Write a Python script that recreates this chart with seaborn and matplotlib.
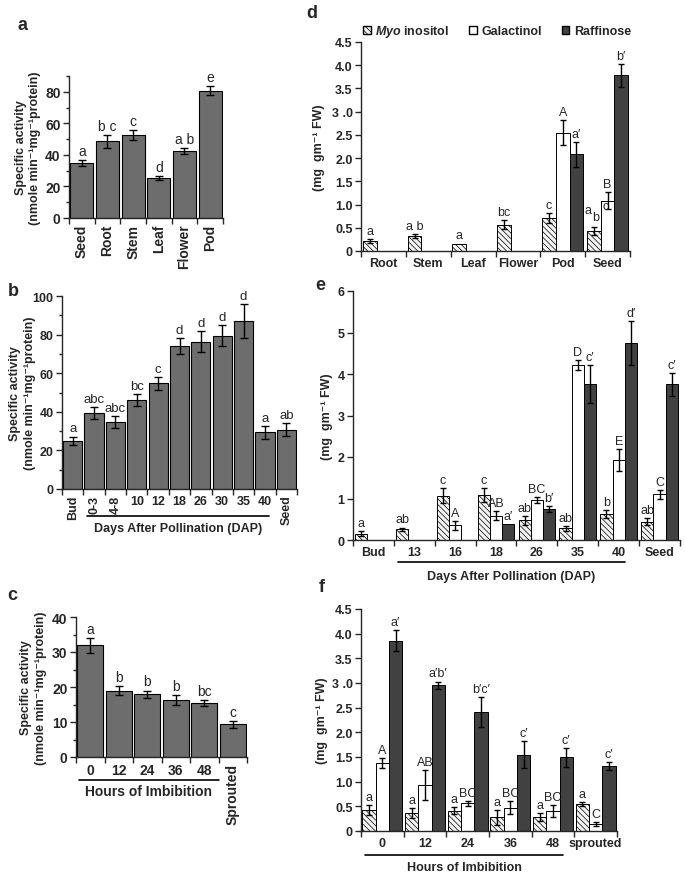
import matplotlib
matplotlib.use("Agg")
import matplotlib.pyplot as plt
from matplotlib.patches import Patch
from matplotlib.ticker import MultipleLocator
import seaborn as sns
import numpy as np
import pandas as pd

sns.set_theme(style="ticks")
plt.rcParams['font.family'] = ['Liberation Sans', 'DejaVu Sans']
plt.rcParams['mathtext.fontset'] = 'custom'
plt.rcParams['mathtext.it'] = 'Liberation Sans:italic:bold'
plt.rcParams['hatch.linewidth'] = 0.5
plt.rcParams['axes.linewidth'] = 1.0

BAR_GRAY = '#6d6d6d'
RAF_GRAY = '#414141'
GAL_WHITE = '#ffffff'
MYO_FILL = '#f4f4f4'
MYO_HATCH = '\\\\\\\\\\\\'
SUGARS = ['Myo inositol', 'Galactinol', 'Raffinose']

# ---- panel a: specific activity in tissues
a_cats = ['Seed', 'Root', 'Stem', 'Leaf', 'Flower', 'Pod']
a_vals = [34.7, 48.5, 52.5, 25.6, 42.3, 80.8]
a_errs = [1.9, 4.3, 3.0, 1.2, 2.0, 3.0]
a_letters = ['a', 'b c', 'c', 'd', 'a b', 'e']

# ---- panel b: specific activity during pod development
b_cats = ['Bud', '0-3', '4-8', '10', '12', '18', '26', '30', '35', '40', 'Seed']
b_vals = [25.0, 39.3, 34.7, 46.0, 54.7, 74.0, 76.4, 79.5, 87.0, 29.3, 30.7]
b_errs = [2.2, 3.2, 2.9, 3.1, 3.5, 4.3, 5.3, 5.3, 8.6, 3.2, 3.3]
b_letters = ['a', 'abc', 'abc', 'bc', 'c', 'd', 'd', 'd', 'd', 'a', 'ab']
b_rot = [90, 90, 90, 0, 0, 0, 0, 0, 0, 0, 90]

# ---- panel c: specific activity during imbibition
c_cats = ['0', '12', '24', '36', '48', 'Sprouted']
c_vals = [31.9, 18.9, 17.9, 16.4, 15.5, 9.3]
c_errs = [2.2, 1.3, 1.1, 1.4, 0.8, 1.0]
c_letters = ['a', 'b', 'b', 'b', 'bc', 'c']
c_rot = [0, 0, 0, 0, 0, 90]

# ---- panel d: sugars in tissues
d_cats = ['Root', 'Stem', 'Leaf', 'Flower', 'Pod', 'Seed']
d_myo = [0.21, 0.32, 0.16, 0.57, 0.71, 0.43]
d_myo_err = [0.04, 0.04, 0.0, 0.1, 0.1, 0.08]
d_gal = [0, 0, 0, 0, 2.55, 1.08]
d_gal_err = [0, 0, 0, 0, 0.27, 0.18]
d_raf = [0, 0, 0, 0, 2.08, 3.78]
d_raf_err = [0, 0, 0, 0, 0.27, 0.25]
d_myo_lab = ['a', 'a b', 'a', 'bc', 'c', '']
d_gal_lab = ['', '', '', '', 'A', 'B']
d_raf_lab = ['', '', '', '', 'a\u2032', 'b\u2032']

# ---- panel e: sugars during pod development
e_cats = ['Bud', '13', '16', '18', '26', '35', '40', 'Seed']
e_myo = [0.15, 0.26, 1.07, 1.09, 0.47, 0.28, 0.62, 0.44]
e_myo_err = [0.06, 0.04, 0.18, 0.17, 0.1, 0.06, 0.1, 0.08]
e_gal = [0, 0, 0.35, 0.59, 0.97, 4.22, 1.93, 1.1]
e_gal_err = [0, 0, 0.1, 0.1, 0.07, 0.12, 0.26, 0.1]
e_raf = [0, 0, 0, 0.38, 0.75, 3.75, 4.74, 3.75]
e_raf_err = [0, 0, 0, 0, 0.07, 0.46, 0.53, 0.27]
e_myo_lab = ['a', 'ab', 'c', 'c', 'ab', 'ab', 'b', 'ab']
e_gal_lab = ['', '', 'A', 'AB', 'BC', 'D', 'E', 'C']
e_raf_lab = ['', '', '', 'a\u2032', 'b\u2032', 'c\u2032', 'd\u2032', 'c\u2032']

# ---- panel f: sugars during imbibition
f_cats = ['0', '12', '24', '36', '48', 'sprouted']
f_myo = [0.43, 0.36, 0.41, 0.28, 0.28, 0.55]
f_myo_err = [0.1, 0.1, 0.07, 0.15, 0.08, 0.04]
f_gal = [1.37, 0.93, 0.56, 0.47, 0.41, 0.15]
f_gal_err = [0.1, 0.3, 0.05, 0.13, 0.12, 0.04]
f_raf = [3.86, 2.95, 2.41, 1.55, 1.49, 1.31]
f_raf_err = [0.22, 0.08, 0.3, 0.27, 0.2, 0.08]
f_myo_lab = ['a', 'a', 'a', 'a', 'a', 'a']
f_gal_lab = ['A', 'AB', 'BC', 'BC', 'BC', 'C']
f_raf_lab = ['a\u2032', 'a\u2032b\u2032', 'b\u2032c\u2032', 'c\u2032', 'c\u2032', 'c\u2032']

YLAB_ACT = 'Specific activity\n(nmole min\u207b\u00b9mg\u207b\u00b9protein)'
YLAB_SUG = '(mg  gm\u207b\u00b9 FW)'

fig = plt.figure(figsize=(6.85, 8.78), dpi=100)
W, H = 685.0, 878.0


def rect(x0, y_top, x1, y_bottom):
    return [x0 / W, 1 - y_bottom / H, (x1 - x0) / W, (y_bottom - y_top) / H]


def style_x(ax, cats, rot, size):
    n = len(cats)
    ax.set_xticks(np.arange(-0.5, n, 1.0))
    ax.set_xticklabels([])
    ax.set_xticks(np.arange(n), cats, minor=True)
    ax.tick_params(axis='x', which='major', length=4, width=1, direction='out')
    ax.tick_params(axis='x', which='minor', length=0, pad=4, labelsize=size)
    for lab, r in zip(ax.get_xticklabels(minor=True), rot):
        lab.set_rotation(r)
        lab.set_fontweight('bold')
    ax.set_xlim(-0.5, n - 0.5)
    ax.set_xlabel('')
    sns.despine(ax=ax)


def style_y(ax, ylim, major, minor, size, ticklabels=None):
    ax.set_ylim(*ylim)
    ax.yaxis.set_major_locator(MultipleLocator(major))
    if minor:
        ax.yaxis.set_minor_locator(MultipleLocator(minor))
        ax.tick_params(axis='y', which='minor', length=2.5, width=1)
    ax.tick_params(axis='y', which='major', length=4, width=1, labelsize=size, pad=2)
    if ticklabels is not None:
        ax.set_yticks(np.arange(len(ticklabels)) * major, ticklabels)
    for lab in ax.get_yticklabels():
        lab.set_fontweight('bold')


def single_panel(r, cats, vals, errs, letters, rot, ylim, major, minor, tsize, lsize):
    ax = fig.add_axes(r)
    df = pd.DataFrame({'cat': cats, 'val': vals})
    sns.barplot(data=df, x='cat', y='val', order=cats, color=BAR_GRAY, saturation=1,
                width=0.9, edgecolor='black', linewidth=0.8, errorbar=None, ax=ax)
    centers = [p.get_x() + p.get_width() / 2 for p in ax.patches]
    ax.errorbar(centers, vals, yerr=errs, fmt='none', ecolor='black',
                elinewidth=1, capsize=3, capthick=1)
    for x, v, e, t in zip(centers, vals, errs, letters):
        ax.annotate(t, (x, v + e), xytext=(0, 1.5), textcoords='offset points',
                    ha='center', va='bottom', fontsize=lsize)
    style_x(ax, cats, rot, tsize)
    style_y(ax, ylim, major, minor, tsize)
    ax.set_ylabel(YLAB_ACT, fontsize=9, fontweight='bold', linespacing=1.3)
    return ax


def grouped_panel(r, cats, series, errs, labels, ylim, major, tsize, lsize, width,
                  ticklabels=None):
    ax = fig.add_axes(r)
    n = len(cats)
    df = pd.DataFrame({'cat': cats * 3,
                       'sugar': [s for s in SUGARS for _ in cats],
                       'val': series[0] + series[1] + series[2]})
    sns.barplot(data=df, x='cat', y='val', hue='sugar', order=cats, hue_order=SUGARS,
                palette=[MYO_FILL, GAL_WHITE, RAF_GRAY], saturation=1, width=width,
                edgecolor='black', linewidth=0.7, errorbar=None, legend=False, ax=ax)
    for bar in ax.containers[0]:
        bar.set_hatch(MYO_HATCH)
    for cont, vals, ee, labs in zip(ax.containers, series, errs, labels):
        for bar, v, e, t in zip(cont, vals, ee, labs):
            x = bar.get_x() + bar.get_width() / 2
            if e > 0:
                ax.errorbar([x], [v], yerr=[e], fmt='none', ecolor='black',
                            elinewidth=1, capsize=2.5, capthick=1)
            if t:
                ax.annotate(t, (x, v + e), xytext=(0, 1.5), textcoords='offset points',
                            ha='center', va='bottom', fontsize=lsize)
    style_x(ax, cats, [0] * n, tsize)
    style_y(ax, ylim, major, None, tsize, ticklabels)
    ax.set_ylabel(YLAB_SUG, fontsize=9, fontweight='bold')
    return ax


def bracket(ax, x0, x1, y, text, ty, size):
    tr = ax.get_xaxis_transform()
    ax.plot([x0, x1], [y, y], color='black', lw=1.2, transform=tr, clip_on=False)
    ax.text((x0 + x1) / 2, ty, text, transform=tr, ha='center', va='center',
            fontsize=size, fontweight='bold')


# ---------------- left column
ax_a = single_panel(rect(69, 77, 223, 219), a_cats, a_vals, a_errs, a_letters,
                    [90] * 6, (0, 90), 20, 10, 10, 10)
ax_a.yaxis.set_label_coords(-0.18, 0.5)

ax_b = single_panel(rect(62, 297, 297, 490), b_cats, b_vals, b_errs, b_letters,
                    b_rot, (0, 100), 20, 10, 9, 9.5)
ax_b.yaxis.set_label_coords(-0.11, 0.5)
bracket(ax_b, 0.65, 9.2, -0.14, 'Days After Pollination (DAP)', -0.2, 9)

ax_c = single_panel(rect(76, 618, 247, 758), c_cats, c_vals, c_errs, c_letters,
                    c_rot, (0, 40), 10, 5, 10, 10)
ax_c.yaxis.set_label_coords(-0.17, 0.5)
bracket(ax_c, -0.4, 4.5, -0.165, 'Hours of Imbibition', -0.24, 10)

# ---------------- right column
sug_ticks = ['0', '0.5', '1.0', '1.5', '2.0', '2.5', '3 .0', '3.5', '4.0', '4.5']

ax_d = grouped_panel(rect(361, 43, 630, 252), d_cats, [d_myo, d_gal, d_raf],
                     [d_myo_err, d_gal_err, d_raf_err], [d_myo_lab, d_gal_lab, d_raf_lab],
                     (0, 4.5), 0.5, 9, 9, 0.92, sug_ticks)
ax_d.yaxis.set_label_coords(-0.134, 0.5)
# staggered "abc" over the seed myo-inositol bar
seed_bar = ax_d.containers[0][5]
sx = seed_bar.get_x() + seed_bar.get_width() / 2
sy = d_myo[5] + d_myo_err[5]
for t, dx, dy in [('a', -4.5, 8), ('b', 1.5, 3), ('c', 8.5, 11)]:
    ax_d.annotate(t, (sx, sy), xytext=(dx, dy), textcoords='offset points',
                  ha='center', va='bottom', fontsize=9)
handles = [Patch(facecolor=MYO_FILL, edgecolor='black', hatch=MYO_HATCH, label='$Myo$ inositol'),
           Patch(facecolor=GAL_WHITE, edgecolor='black', label='Galactinol'),
           Patch(facecolor=RAF_GRAY, edgecolor='black', label='Raffinose')]
ax_d.legend(handles=handles, loc='lower left', bbox_to_anchor=(0.0, 1.0), ncol=3,
            frameon=False, prop={'weight': 'bold', 'size': 9}, handlelength=0.6,
            handleheight=0.6, handletextpad=0.35, columnspacing=1.6, borderaxespad=0.2,
            borderpad=0)

ax_e = grouped_panel(rect(353, 292, 680, 541), e_cats, [e_myo, e_gal, e_raf],
                     [e_myo_err, e_gal_err, e_raf_err], [e_myo_lab, e_gal_lab, e_raf_lab],
                     (0, 6), 1, 9, 9, 0.9)
ax_e.yaxis.set_label_coords(-0.061, 0.5)
bracket(ax_e, 0.6, 6.15, -0.088, 'Days After Pollination (DAP)', -0.145, 9)

ax_f = grouped_panel(rect(361, 610, 617, 832), f_cats, [f_myo, f_gal, f_raf],
                     [f_myo_err, f_gal_err, f_raf_err], [f_myo_lab, f_gal_lab, f_raf_lab],
                     (0, 4.5), 0.5, 9, 9, 0.93, sug_ticks)
ax_f.yaxis.set_label_coords(-0.129, 0.5)
bracket(ax_f, -0.4, 4.23, -0.108, 'Hours of Imbibition', -0.162, 9)

# panel letters
for t, x, y in [('a', 23, 25), ('b', 13, 292), ('c', 12, 595),
                ('d', 312, 13), ('e', 320, 285), ('f', 322, 587)]:
    fig.text(x / W, 1 - y / H, t, fontsize=13, fontweight='bold', ha='center', va='center')

fig.savefig('out.png', dpi=100)
